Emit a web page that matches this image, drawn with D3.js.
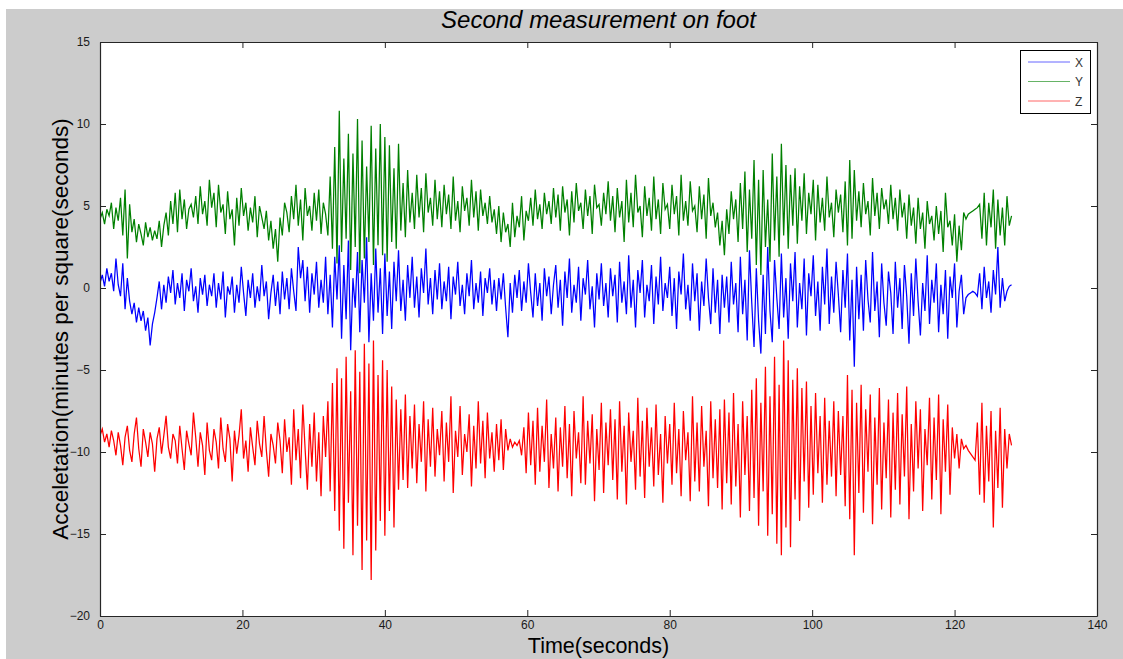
<!DOCTYPE html>
<html>
<head>
<meta charset="utf-8">
<script src="https://cdn.jsdelivr.net/npm/d3@7"></script>
<style>
  html, body { margin: 0; padding: 0; background: #ffffff; }
  svg { display: block; }
</style>
</head>
<body>
<svg id="chart" width="1123" height="659"></svg>
<script>
// ---------------- DATA ----------------
const duration = 128;            // seconds recorded
const seriesNames = ["X", "Y", "Z"];
const seriesColors = ["#0000ff", "#008000", "#ff0000"];
const xTicks = [0, 20, 40, 60, 80, 100, 120, 140];
const yTicks = [-20, -15, -10, -5, 0, 5, 10, 15];

const xValues = [
  0.3,0.8,0.1,1.2,0.4,0.9,-0.2,1.8,0.2,-0.5,1.5,-1.3,0.6,-0.8,-1.6,-0.9,-2.1,-1.2,-2.0,-1.4,-2.6,-1.8,-3.5,-2.2,-1.5,
  -0.6,0.4,-1.3,0.2,-0.9,0.7,-0.3,1.1,-1.0,0.3,-0.6,0.9,-1.4,0.5,-0.2,1.2,-0.8,0.1,-1.5,0.6,-0.4,0.8,-1.1,0.2,-0.5,
  0.9,-1.2,0.3,-0.7,1.0,-1.8,0.1,-0.4,0.7,-1.5,0.2,-0.9,1.3,-0.3,-1.7,0.5,-0.6,0.9,-1.2,0.1,-0.8,1.4,-0.5,0.4,-1.9,
  -0.3,0.8,-1.1,0.4,-1.6,1.0,-0.7,0.6,-1.3,1.2,-0.2,-1.4,2.5,0.6,1.7,-0.8,1.3,-1.5,0.9,-0.4,1.6,-1.2,0.5,-0.9,1.9,
  -1.6,0.8,-2.4,1.9,-0.7,2.6,-3.1,1.4,-1.9,2.9,-3.8,0.6,-1.2,2.2,-2.7,1.7,-0.9,3.1,-3.3,0.9,-2.0,2.4,-1.5,1.2,-2.8,
  2.1,-1.7,1.0,-2.5,1.6,-0.8,2.3,-1.4,0.5,-2.0,1.4,-0.6,1.9,-1.2,0.7,-1.8,1.2,-0.3,2.4,-1.0,0.6,-1.6,1.1,-0.7,1.5,
  -1.3,0.4,-0.8,1.3,-1.9,0.7,-0.4,1.6,-1.1,0.2,-1.6,0.9,-0.5,1.7,-1.3,0.3,-0.9,1.0,-1.7,0.6,-0.3,1.2,-1.0,0.5,-1.4,
  0.6,-0.7,0.9,-1.2,-3.0,0.3,-1.5,0.8,-0.6,1.1,-1.4,0.4,-0.9,1.5,-0.3,-1.8,0.9,-1.1,0.3,-2.0,1.2,-0.5,0.7,-1.6,0.2,
  1.4,-1.2,0.5,-2.3,1.0,-0.6,1.8,-1.5,0.2,-0.9,1.3,-2.0,0.6,-0.4,1.7,-1.3,0.1,-2.4,0.9,-0.7,1.5,-1.1,0.3,-1.8,1.2,
  -0.5,0.8,-2.1,1.6,-0.9,0.4,-1.6,2.0,-1.2,0.5,-2.4,1.1,-0.3,1.7,-1.8,0.2,-0.8,1.4,-2.2,0.7,-1.0,1.9,-1.4,0.3,-0.6,
  1.3,-1.7,0.6,-2.5,1.0,-0.4,2.1,-1.3,0.2,-2.0,1.5,-0.8,0.9,-2.6,0.4,-1.1,1.8,-0.6,-2.2,1.2,-1.5,0.5,-2.8,0.8,-1.2,
  0.7,-2.1,1.6,-1.0,0.3,-2.7,1.9,-1.6,0.5,-3.2,2.3,-0.9,-3.6,1.2,-2.0,-4.0,0.8,-2.8,2.5,-1.4,-3.3,1.7,-0.6,-2.5,2.1,
  -1.8,0.6,-3.1,1.5,-0.8,2.2,-2.4,0.3,-1.3,1.8,-2.9,0.9,-0.5,2.0,-1.7,0.4,-2.6,1.3,-1.0,2.4,-2.2,0.7,-1.5,1.6,-0.4,
  -2.7,1.1,-1.2,2.1,-3.2,0.5,-4.8,1.3,-1.9,0.8,-2.6,1.7,-0.7,-2.1,2.2,-1.4,0.4,-3.0,1.5,-0.9,-2.3,1.0,-0.3,-2.8,1.6,
  -1.2,0.6,-2.5,1.4,-0.5,-3.4,0.9,-1.7,1.8,-0.8,-2.9,0.3,-1.4,2.0,-2.2,0.5,-0.9,1.5,-2.7,0.2,-1.6,1.1,-3.1,0.7,-0.6,
  1.5,-2.4,-0.2,0.8,-1.6,-0.6,-0.4,-0.3,-0.2,-0.3,-0.5,0.9,-1.3,1.3,-0.6,0.4,-1.5,1.1,-0.4,2.5,-1.2,0.6,-0.8,-0.2,0.1,
  0.2
];

const yValues = [
  4.2,4.6,3.9,4.8,4.4,5.2,3.6,4.9,4.1,5.5,3.2,6.0,1.8,5.1,3.4,4.2,2.8,3.9,3.3,2.6,4.0,3.1,3.7,2.9,3.5,
  3.0,4.1,2.5,3.8,4.6,3.2,5.3,3.9,5.8,3.4,6.0,4.2,5.4,3.6,4.8,5.1,4.3,5.6,3.9,6.2,4.5,5.3,3.8,6.6,4.9,
  5.8,3.7,6.3,4.6,5.1,3.3,5.9,4.2,4.8,2.6,5.5,3.8,6.1,4.4,5.2,3.5,4.9,4.0,5.6,3.1,5.0,4.3,3.6,4.7,2.9,
  4.1,2.4,3.6,1.6,4.3,3.2,5.2,4.6,3.4,5.6,4.2,6.3,3.8,5.4,2.9,6.1,4.4,5.0,3.5,5.8,4.1,6.0,3.3,5.2,4.5,
  3.2,6.8,2.4,8.6,1.5,10.8,2.2,7.9,3.0,9.4,1.1,8.2,2.5,10.3,0.9,9.0,1.8,7.4,2.8,9.9,1.4,8.5,2.6,10.0,2.0,
  9.2,1.6,8.7,2.8,7.3,2.4,8.8,3.5,6.4,3.1,7.2,4.0,5.8,3.6,6.9,4.3,6.1,3.4,7.0,4.6,5.5,3.8,6.6,4.2,5.9,
  3.7,6.3,4.5,5.7,3.6,6.8,4.1,5.3,3.4,6.2,4.7,5.5,3.8,6.6,4.3,5.9,3.5,6.0,4.4,5.2,3.9,5.6,4.0,4.8,3.3,
  5.0,2.8,4.6,3.4,3.9,2.5,5.2,3.1,4.4,3.7,5.6,2.9,4.7,4.1,5.5,3.8,6.0,4.2,5.1,3.6,5.8,4.5,5.3,3.9,6.1,
  4.3,5.7,3.5,6.2,4.6,5.4,3.2,5.9,4.0,6.4,4.7,5.2,3.6,6.0,4.4,5.6,3.3,6.3,4.9,5.1,3.8,5.8,4.5,6.5,4.1,
  5.6,3.4,6.1,4.3,5.3,2.8,6.6,4.0,5.8,3.7,6.9,4.6,5.0,3.1,6.2,4.4,5.5,3.5,6.8,4.2,5.4,3.3,6.4,4.8,5.1,
  3.6,6.3,4.5,5.6,3.2,6.9,4.1,5.3,3.8,6.5,4.7,5.0,3.4,6.2,4.2,5.7,3.0,6.7,4.4,5.2,3.7,4.6,2.6,4.1,2.0,
  4.8,3.3,5.9,4.2,5.4,2.8,6.4,3.6,7.1,2.2,6.0,3.0,7.8,1.4,6.6,0.8,7.2,2.5,5.4,1.6,8.2,2.9,6.8,1.9,8.8,
  3.2,7.5,2.4,6.9,3.8,7.3,2.7,6.2,4.1,7.0,3.3,5.8,4.5,6.6,2.9,6.3,4.0,5.5,3.5,6.8,4.3,5.2,3.1,6.0,4.6,
  5.7,3.4,6.5,2.6,7.8,3.0,7.2,4.1,5.9,3.7,6.4,4.5,5.3,3.2,6.7,4.4,5.8,3.6,6.1,4.8,5.4,3.9,6.3,4.2,5.5,
  3.5,6.0,4.3,5.2,3.0,5.7,3.8,4.9,2.7,5.5,3.6,4.6,2.4,5.3,3.9,4.4,2.9,5.0,3.3,4.7,2.2,5.8,3.7,4.1,2.6,
  4.5,1.6,3.8,2.3,4.6,4.2,4.5,4.6,4.7,4.8,4.9,5.1,3.0,5.8,2.6,5.2,3.7,6.0,2.4,5.4,3.2,4.9,2.6,5.6,3.8,
  4.4
];

const zValues = [
  -9.0,-8.6,-9.4,-8.9,-9.7,-8.7,-9.3,-10.2,-8.8,-9.6,-10.8,-9.1,-8.4,-9.9,-10.6,-8.9,-7.9,-9.8,-10.9,-8.6,-9.4,-10.3,-8.8,-9.5,-11.2,
  -9.2,-8.5,-10.1,-9.0,-7.8,-9.7,-10.4,-8.9,-9.3,-10.7,-8.4,-9.8,-11.1,-8.7,-9.5,-10.2,-7.6,-9.1,-10.9,-8.8,-9.6,-11.4,-8.2,-9.9,-10.5,
  -8.6,-9.4,-11.0,-7.9,-9.8,-10.6,-8.3,-9.2,-11.8,-8.7,-10.1,-9.0,-7.4,-10.4,-9.3,-11.2,-8.5,-9.7,-10.8,-8.1,-9.5,-10.3,-7.8,-9.9,-11.5,
  -8.9,-9.6,-10.7,-8.2,-9.3,-11.3,-8.0,-10.0,-9.1,-12.0,-7.4,-10.5,-8.6,-11.6,-7.1,-9.8,-12.3,-8.3,-10.9,-7.6,-11.8,-8.8,-12.7,-7.8,-10.3,
  -6.9,-12.4,-5.8,-13.6,-4.9,-14.8,-5.5,-15.9,-4.2,-13.1,-6.3,-16.3,-3.8,-14.5,-5.1,-17.2,-3.4,-15.4,-4.6,-17.8,-3.2,-16.0,-5.3,-14.2,-4.4,
  -15.1,-5.0,-13.6,-6.0,-14.6,-6.8,-12.3,-7.4,-11.7,-6.5,-12.2,-7.8,-11.0,-7.1,-11.9,-8.3,-10.6,-6.9,-12.4,-8.0,-10.9,-7.3,-11.5,-8.6,-10.2,
  -7.5,-11.8,-8.2,-10.6,-6.6,-12.5,-8.7,-10.3,-7.2,-11.4,-8.9,-10.0,-7.7,-12.1,-8.4,-11.0,-6.9,-10.7,-8.1,-11.6,-7.6,-10.4,-8.8,-11.2,-8.3,
  -10.5,-8.0,-11.1,-8.6,-9.9,-9.2,-9.7,-9.4,-9.6,-9.3,-10.2,-8.5,-11.3,-7.6,-10.8,-8.1,-12.0,-7.3,-11.2,-8.4,-10.6,-6.8,-12.2,-8.9,-11.0,
  -7.9,-12.4,-8.5,-10.9,-7.2,-11.6,-8.3,-12.7,-7.5,-10.4,-8.8,-11.9,-6.6,-12.0,-8.1,-10.7,-7.7,-13.0,-8.6,-11.1,-7.0,-12.5,-8.2,-10.8,-7.4,
  -11.7,-8.0,-12.9,-6.9,-11.2,-8.4,-13.2,-7.6,-10.6,-8.7,-12.3,-6.7,-11.5,-8.1,-12.8,-7.3,-10.9,-8.5,-12.1,-7.1,-11.4,-8.9,-13.1,-7.8,-10.7,
  -8.3,-12.0,-7.0,-11.3,-8.6,-12.7,-7.5,-10.5,-8.8,-13.0,-6.6,-11.8,-8.2,-12.4,-7.2,-10.9,-8.7,-13.3,-6.9,-11.6,-8.0,-12.2,-7.4,-13.5,-6.8,
  -11.9,-7.6,-13.2,-6.4,-12.1,-8.3,-14.0,-6.9,-11.4,-7.8,-13.6,-6.2,-12.8,-5.5,-14.5,-7.0,-12.4,-4.8,-15.1,-6.6,-13.8,-4.2,-15.6,-5.9,-16.3,
  -3.2,-14.6,-4.4,-15.8,-5.6,-12.9,-4.9,-14.2,-6.1,-11.8,-5.7,-13.4,-7.2,-12.6,-6.4,-11.3,-7.8,-13.1,-6.7,-12.0,-8.1,-11.5,-6.9,-12.7,-7.5,
  -11.4,-7.8,-13.3,-5.3,-14.1,-6.2,-16.3,-7.0,-12.5,-5.9,-13.7,-7.4,-11.2,-6.5,-14.4,-7.9,-12.0,-6.1,-13.5,-8.2,-11.6,-6.8,-14.0,-7.6,-12.3,
  -6.4,-13.2,-7.7,-11.5,-6.0,-14.1,-8.3,-12.4,-6.9,-11.0,-7.4,-13.6,-8.6,-10.8,-6.7,-12.9,-7.9,-11.7,-6.5,-13.8,-8.0,-11.2,-7.1,-12.6,-8.5,
  -10.4,-8.9,-11.0,-9.2,-9.8,-9.6,-9.9,-10.1,-10.3,-10.5,-8.2,-12.6,-7.0,-13.1,-8.4,-11.8,-7.5,-14.6,-8.7,-12.2,-7.3,-13.4,-8.6,-11.0,-8.9,
  -9.6
];

const titleText = "Second measurement on foot";
const xLabelText = "Time(seconds)";
const yLabelText = "Acceletation(minutes per square(seconds)";

// ---------------- LAYOUT ----------------
const W = 1123, H = 659;
const plot = { left: 100, top: 42, right: 1097, bottom: 616 };

const svg = d3.select("#chart");

// figure background
svg.append("rect").attr("x", 0).attr("y", 0).attr("width", W).attr("height", H).attr("fill", "#ffffff");
svg.append("rect").attr("x", 6).attr("y", 9).attr("width", W - 6).attr("height", H - 9).attr("fill", "#cccccc");
// axes background
svg.append("rect")
  .attr("x", plot.left).attr("y", plot.top)
  .attr("width", plot.right - plot.left).attr("height", plot.bottom - plot.top)
  .attr("fill", "#ffffff");

const x = d3.scaleLinear().domain([0, 140]).range([plot.left, plot.right]);
const y = d3.scaleLinear().domain([-20, 15]).range([plot.bottom, plot.top]);

const series = [xValues, yValues, zValues];

svg.append("clipPath").attr("id", "clip")
  .append("rect").attr("x", plot.left).attr("y", plot.top)
  .attr("width", plot.right - plot.left).attr("height", plot.bottom - plot.top);

const gLines = svg.append("g").attr("clip-path", "url(#clip)");
series.forEach((vals, k) => {
  const step = duration / (vals.length - 1);
  const line = d3.line()
    .x((d, i) => x(i * step))
    .y(d => y(d));
  gLines.append("path")
    .datum(vals)
    .attr("fill", "none")
    .attr("stroke", seriesColors[k])
    .attr("stroke-width", 1.25)
    .attr("stroke-linejoin", "miter")
    .attr("d", line);
});

// axes
const axisColor = "#262626";
const tickFont = "'Liberation Sans Narrow', 'Arial Narrow', 'Liberation Sans', Arial, sans-serif";

const gx = svg.append("g").attr("transform", `translate(0,${plot.bottom})`)
  .call(d3.axisBottom(x).tickValues(xTicks).tickSizeInner(-6).tickSizeOuter(0).tickPadding(4).tickFormat(d3.format("d")));
const gxTop = svg.append("g").attr("transform", `translate(0,${plot.top})`)
  .call(d3.axisTop(x).tickValues(xTicks).tickSizeInner(-6).tickSizeOuter(0).tickFormat(""));
const gy = svg.append("g").attr("transform", `translate(${plot.left},0)`)
  .call(d3.axisLeft(y).tickValues(yTicks).tickSizeInner(-6).tickSizeOuter(0).tickPadding(10).tickFormat(d3.format("d")));
const gyR = svg.append("g").attr("transform", `translate(${plot.right},0)`)
  .call(d3.axisRight(y).tickValues(yTicks).tickSizeInner(-6).tickSizeOuter(0).tickFormat(""));

[gx, gxTop, gy, gyR].forEach(g => {
  g.select(".domain").attr("stroke", axisColor).attr("stroke-width", 1.2);
  g.selectAll(".tick line").attr("stroke", axisColor);
  g.selectAll(".tick text").attr("fill", "#1a1a1a").style("font-family", tickFont).style("font-size", "12px");
});

// legend
const leg = svg.append("g");
leg.append("rect").attr("x", 1020.5).attr("y", 50.5).attr("width", 70).attr("height", 63)
  .attr("fill", "#ffffff").attr("stroke", "#000000").attr("stroke-width", 1);
seriesNames.forEach((name, k) => {
  const yy = 62 + k * 19.5;
  leg.append("line").attr("x1", 1028).attr("x2", 1070).attr("y1", yy).attr("y2", yy)
    .attr("stroke", seriesColors[k]).attr("stroke-width", 1).attr("stroke-opacity", 0.6);
  leg.append("text").attr("x", 1075).attr("y", yy + 4.5).text(name)
    .style("font-family", "'Liberation Sans', Arial, sans-serif").style("font-size", "12px").attr("fill", "#333");
});

// title & labels
svg.append("text").attr("x", (plot.left + plot.right) / 2).attr("y", 28)
  .attr("text-anchor", "middle").text(titleText)
  .style("font-family", "'Liberation Sans', Arial, sans-serif").style("font-size", "24px")
  .style("font-style", "italic").attr("fill", "#000");

svg.append("text").attr("x", (plot.left + plot.right) / 2).attr("y", 653)
  .attr("text-anchor", "middle").text(xLabelText)
  .style("font-family", "'Liberation Sans', Arial, sans-serif").style("font-size", "21.5px").attr("fill", "#000");

svg.append("text")
  .attr("transform", `translate(68,${(plot.top + plot.bottom) / 2}) rotate(-90)`)
  .attr("text-anchor", "middle").text(yLabelText)
  .style("font-family", "'Liberation Sans', Arial, sans-serif").style("font-size", "22.5px").attr("fill", "#000");
</script>
</body>
</html>
